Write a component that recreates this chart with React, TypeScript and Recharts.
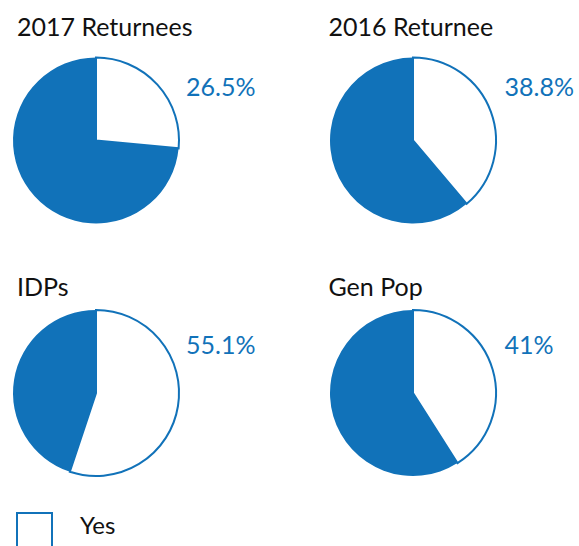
import { Cell, Pie, PieChart } from "recharts";

const groups = ["2017 Returnees", "2016 Returnee", "IDPs", "Gen Pop"];
const yesPct = [26.5, 38.8, 55.1, 41];
const pctLabels = ["26.5%", "38.8%", "55.1%", "41%"];
const legendLabel = "Yes";

const BLUE = "#1172b9";
const FONT = "Lato, 'Open Sans', sans-serif";

// grid placement of the four pies
const spots = [
  { cx: 96, cy: 140.5, tx: 17, ty: 35.5, px: 186, py: 95.5 },
  { cx: 413, cy: 140.5, tx: 328.5, ty: 35.5, px: 504.5, py: 95.5 },
  { cx: 96, cy: 393, tx: 17, ty: 296, px: 186, py: 354 },
  { cx: 413, cy: 393, tx: 328.5, ty: 296, px: 504.5, py: 354 },
];

export default function App() {
  return (
    <div style={{ position: "absolute", left: 0, top: 0, width: 579, height: 546, background: "#fff", overflow: "hidden" }}>
      <PieChart width={579} height={546} margin={{ top: 0, right: 0, bottom: 0, left: 0 }}>
        {groups.map((g, i) => (
          <Pie
            key={g}
            data={[
              { name: "Yes", value: yesPct[i] },
              { name: "No", value: 100 - yesPct[i] },
            ]}
            dataKey="value"
            cx={spots[i].cx}
            cy={spots[i].cy}
            outerRadius={83}
            startAngle={90}
            endAngle={-270}
            isAnimationActive={false}
          >
            <Cell fill="#ffffff" stroke={BLUE} strokeWidth={2} />
            <Cell fill={BLUE} stroke="none" />
          </Pie>
        ))}
        {groups.map((g, i) => (
          <text key={"t" + g} x={spots[i].tx} y={spots[i].ty} fontFamily={FONT} fontSize={25} fill="#111">
            {g}
          </text>
        ))}
        {pctLabels.map((p, i) => (
          <text key={"p" + i} x={spots[i].px} y={spots[i].py} fontFamily={FONT} fontSize={25} fill={BLUE}>
            {p}
          </text>
        ))}
      </PieChart>
      <div style={{ position: "absolute", left: 16, top: 512, width: 37, height: 44, border: `2.5px solid ${BLUE}`, boxSizing: "border-box" }} />
      <svg style={{ position: "absolute", left: 0, top: 500 }} width={200} height={46}>
        <text x={80} y={34} fontFamily={FONT} fontSize={24} fill="#111">
          {legendLabel}
        </text>
      </svg>
    </div>
  );
}
